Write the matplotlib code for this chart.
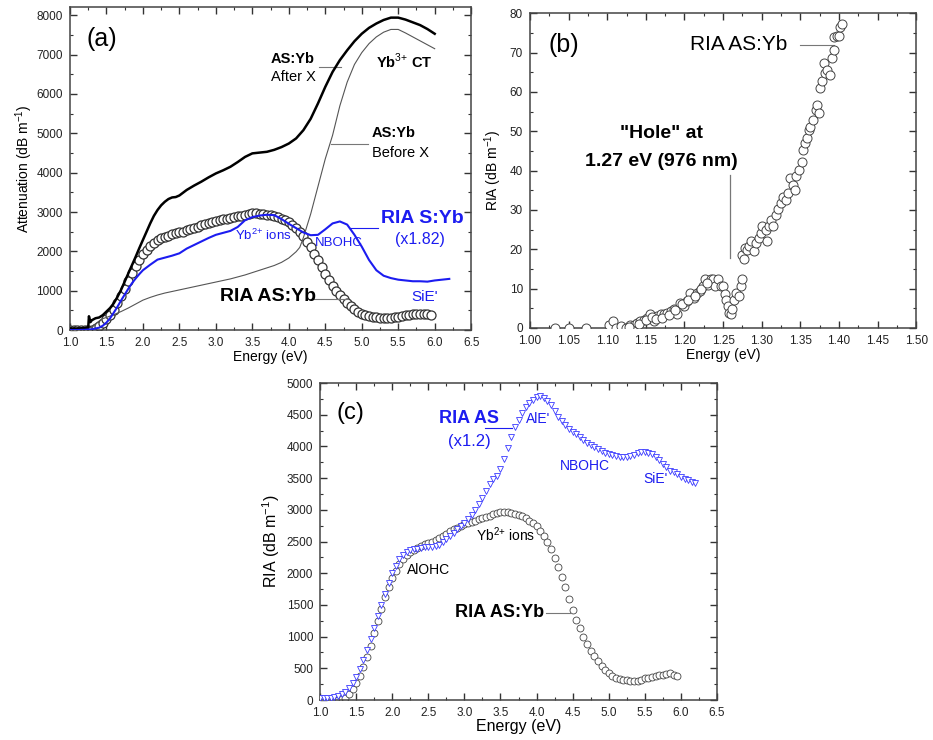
import matplotlib
matplotlib.use('Agg')
import matplotlib.pyplot as plt
import numpy as np
from matplotlib.ticker import MultipleLocator

plt.rcParams['font.family'] = ['Liberation Sans', 'DejaVu Sans']
plt.rcParams['mathtext.fontset'] = 'custom'
plt.rcParams['mathtext.rm'] = 'Liberation Sans'
plt.rcParams['mathtext.bf'] = 'Liberation Sans:bold'

# ---- panel (a) lines ----
e_after = [1.0, 1.1, 1.2, 1.25, 1.26, 1.28, 1.3, 1.35, 1.4, 1.45, 1.5, 1.55, 1.6, 1.65, 1.7, 1.75,
           1.8, 1.85, 1.9, 1.95, 2.0, 2.05, 2.1, 2.15, 2.2, 2.25, 2.3, 2.35, 2.4, 2.45, 2.5, 2.6,
           2.7, 2.8, 2.9, 3.0, 3.1, 3.2, 3.3, 3.4, 3.5, 3.6, 3.7, 3.8, 3.9, 4.0, 4.1, 4.2, 4.3,
           4.4, 4.5, 4.6, 4.7, 4.8, 4.9, 5.0, 5.1, 5.2, 5.3, 5.4, 5.5, 5.6, 5.7, 5.8, 5.9, 6.0]
att_after = [40, 40, 50, 60, 350, 200, 250, 300, 320, 380, 470, 560, 680, 840, 1020, 1230,
             1440, 1650, 1860, 2080, 2290, 2500, 2710, 2900, 3050, 3170, 3260, 3330, 3370, 3380, 3420, 3560,
             3670, 3770, 3880, 3980, 4060, 4150, 4270, 4400, 4490, 4510, 4530, 4580, 4650, 4740, 4870, 5080, 5370,
             5760, 6180, 6560, 6860, 7110, 7340, 7530, 7680, 7790, 7880, 7940, 7940, 7890, 7820, 7750, 7650, 7530]

e_before = [1.0, 1.1, 1.2, 1.3, 1.35, 1.4, 1.45, 1.5, 1.6, 1.7, 1.8, 1.9, 2.0, 2.1, 2.2, 2.3, 2.4,
            2.5, 2.6, 2.7, 2.8, 2.9, 3.0, 3.1, 3.2, 3.3, 3.4, 3.5, 3.6, 3.7, 3.8, 3.9, 4.0, 4.1,
            4.15, 4.2, 4.3, 4.4, 4.5, 4.6, 4.7, 4.8, 4.9, 5.0, 5.1, 5.2, 5.3, 5.4, 5.5, 5.6, 5.7,
            5.8, 5.9, 6.0]
att_before = [30, 30, 40, 70, 150, 230, 290, 320, 390, 470, 560, 660, 760, 830, 890, 940, 980,
              1020, 1060, 1100, 1140, 1180, 1220, 1260, 1300, 1350, 1400, 1460, 1520, 1580, 1640, 1720, 1830, 1990,
              2100, 2350, 2950, 3650, 4350, 4950, 5700, 6300, 6750, 7050, 7280, 7450, 7570, 7640, 7640, 7550, 7450,
              7350, 7250, 7150]

e_syb = [1.0, 1.1, 1.2, 1.3, 1.4, 1.45, 1.5, 1.55, 1.6, 1.65, 1.7, 1.75, 1.8, 1.85, 1.9, 1.95, 2.0,
         2.1, 2.2, 2.3, 2.4, 2.5, 2.6, 2.7, 2.8, 2.9, 3.0, 3.1, 3.2, 3.3, 3.4, 3.5, 3.6, 3.7, 3.8,
         3.9, 4.0, 4.1, 4.2, 4.3, 4.4, 4.5, 4.6, 4.7, 4.8, 4.9, 5.0, 5.1, 5.2, 5.3, 5.4, 5.5, 5.6,
         5.7, 5.8, 5.9, 6.0, 6.1, 6.2]
ria_syb = [0, 0, 5, 20, 60, 110, 190, 300, 440, 590, 750, 900, 1050, 1190, 1310, 1420, 1520,
           1660, 1790, 1840, 1890, 1950, 2070, 2160, 2250, 2340, 2420, 2470, 2520, 2620, 2790, 2870, 2910, 2930, 2920,
           2820, 2700, 2590, 2480, 2410, 2420, 2560, 2710, 2760, 2680, 2420, 2120, 1780, 1520, 1380, 1320, 1280, 1260,
           1240, 1240, 1230, 1260, 1280, 1300]

# ---- RIA AS:Yb (circles, panels a and c), 1.00 .. 5.95 step 0.05 ----
e_asyb = [1.00, 1.05, 1.10, 1.15, 1.20, 1.25, 1.30, 1.35, 1.40, 1.45, 1.50, 1.55, 1.60, 1.65, 1.70,
          1.75, 1.80, 1.85, 1.90, 1.95, 2.00, 2.05, 2.10, 2.15, 2.20, 2.25, 2.30, 2.35, 2.40, 2.45,
          2.50, 2.55, 2.60, 2.65, 2.70, 2.75, 2.80, 2.85, 2.90, 2.95, 3.00, 3.05, 3.10, 3.15, 3.20,
          3.25, 3.30, 3.35, 3.40, 3.45, 3.50, 3.55, 3.60, 3.65, 3.70, 3.75, 3.80, 3.85, 3.90, 3.95,
          4.00, 4.05, 4.10, 4.15, 4.20, 4.25, 4.30, 4.35, 4.40, 4.45, 4.50, 4.55, 4.60, 4.65, 4.70,
          4.75, 4.80, 4.85, 4.90, 4.95, 5.00, 5.05, 5.10, 5.15, 5.20, 5.25, 5.30, 5.35, 5.40, 5.45,
          5.50, 5.55, 5.60, 5.65, 5.70, 5.75, 5.80, 5.85, 5.90, 5.95]
ria_asyb = [0, 0, 0, 0, 0, 0, 10, 40, 100, 170, 270, 380, 520, 680, 860,
            1050, 1250, 1440, 1620, 1790, 1920, 2040, 2140, 2220, 2280, 2330, 2370, 2400, 2430, 2460,
            2480, 2500, 2530, 2560, 2590, 2620, 2660, 2690, 2720, 2750, 2770, 2790, 2810, 2830, 2850,
            2870, 2890, 2910, 2930, 2950, 2965, 2970, 2960, 2950, 2935, 2920, 2900, 2870, 2830, 2790,
            2740, 2670, 2590, 2490, 2380, 2240, 2100, 1940, 1780, 1600, 1420, 1270, 1130, 1000, 880,
            780, 690, 610, 540, 470, 420, 380, 350, 330, 320, 310, 300, 295, 300, 320,
            340, 350, 370, 385, 395, 400, 415, 420, 400, 380]

# ---- RIA AS (x1.2) triangles, panel c, 1.00 .. 6.20 step 0.05 ----
e_as = [1.00, 1.05, 1.10, 1.15, 1.20, 1.25, 1.30, 1.35, 1.40, 1.45, 1.50, 1.55, 1.60, 1.65, 1.70,
        1.75, 1.80, 1.85, 1.90, 1.95, 2.00, 2.05, 2.10, 2.15, 2.20, 2.25, 2.30, 2.35, 2.40, 2.45,
        2.50, 2.55, 2.60, 2.65, 2.70, 2.75, 2.80, 2.85, 2.90, 2.95, 3.00, 3.05, 3.10, 3.15, 3.20,
        3.25, 3.30, 3.35, 3.40, 3.45, 3.50, 3.55, 3.60, 3.65, 3.70, 3.75, 3.80, 3.85, 3.90, 3.95,
        4.00, 4.05, 4.10, 4.15, 4.20, 4.25, 4.30, 4.35, 4.40, 4.45, 4.50, 4.55, 4.60, 4.65, 4.70,
        4.75, 4.80, 4.85, 4.90, 4.95, 5.00, 5.05, 5.10, 5.15, 5.20, 5.25, 5.30, 5.35, 5.40, 5.45,
        5.50, 5.55, 5.60, 5.65, 5.70, 5.75, 5.80, 5.85, 5.90, 5.95, 6.00, 6.05, 6.10, 6.15, 6.20]
ria_as = [30, 30, 35, 40, 50, 65, 90, 130, 190, 270, 370, 490, 630, 790, 960,
          1140, 1320, 1500, 1680, 1850, 2000, 2120, 2220, 2290, 2330, 2360, 2380, 2390, 2400, 2410,
          2420, 2420, 2430, 2450, 2490, 2540, 2590, 2640, 2690, 2740, 2790, 2850, 2920, 3000, 3090,
          3190, 3300, 3400, 3480, 3540, 3640, 3800, 3980, 4150, 4300, 4420, 4530, 4620, 4690, 4740,
          4780, 4790, 4770, 4720, 4650, 4560, 4470, 4400, 4340, 4280, 4230, 4190, 4150, 4100, 4060,
          4020, 3990, 3960, 3930, 3900, 3880, 3860, 3845, 3835, 3830, 3835, 3850, 3870, 3890, 3905,
          3910, 3900, 3880, 3840, 3790, 3730, 3670, 3620, 3590, 3560, 3520, 3490, 3470, 3445, 3420]

# ---- panel (b) scatter ----
e_b = [1.033, 1.051, 1.073, 1.102, 1.108, 1.111, 1.118, 1.124, 1.130, 1.135, 1.139, 1.143, 1.147,
       1.152, 1.156, 1.160, 1.165, 1.169, 1.173, 1.177, 1.182, 1.186, 1.190, 1.194, 1.199, 1.203,
       1.207, 1.212, 1.216, 1.220, 1.224, 1.227, 1.231, 1.234, 1.237, 1.240, 1.244, 1.247, 1.250,
       1.252, 1.254, 1.256, 1.258, 1.260, 1.262, 1.264, 1.267, 1.270, 1.273, 1.274, 1.274, 1.277,
       1.278, 1.281, 1.284, 1.286, 1.290, 1.293, 1.296, 1.299, 1.301, 1.305, 1.307, 1.309, 1.312,
       1.315, 1.318, 1.321, 1.325, 1.328, 1.331, 1.334, 1.337, 1.340, 1.343, 1.345, 1.348, 1.352,
       1.353, 1.356, 1.359, 1.361, 1.363, 1.367, 1.370, 1.372, 1.374, 1.376, 1.378, 1.380, 1.382,
       1.385, 1.389, 1.391, 1.393, 1.394, 1.397, 1.400, 1.401, 1.404,
       1.128, 1.141, 1.150, 1.158, 1.163, 1.171, 1.180, 1.188, 1.197, 1.205, 1.214, 1.222, 1.229]
ria_b = [0.0, 0.0, 0.0, 0.8, 1.7, 0.0, 0.4, 0.0, 0.6, 0.8, 1.3, 1.7, 2.1,
         2.5, 3.4, 1.7, 3.0, 3.4, 3.4, 3.8, 4.2, 4.7, 3.4, 6.4, 5.5, 6.8,
         8.9, 7.6, 8.9, 9.3, 10.6, 12.3, 11.0, 12.3, 12.3, 10.6, 12.3, 10.6, 10.6,
         8.5, 7.2, 5.5, 3.8, 3.4, 4.7, 7.2, 8.9, 8.0, 10.6, 12.3, 18.6, 17.4,
         20.3, 19.9, 20.7, 22.0, 19.5, 21.6, 22.9, 24.1, 25.8, 25.0, 22.0, 25.8, 27.5,
         25.8, 28.8, 30.1, 31.8, 33.4, 32.6, 34.3, 38.1, 36.4, 35.1, 38.5, 40.2, 42.3,
         45.3, 47.0, 48.3, 50.4, 51.2, 52.9, 55.5, 56.7, 54.6, 61.0, 62.7, 67.3, 64.8,
         65.6, 64.4, 68.6, 70.7, 74.1, 74.3, 74.3, 76.6, 77.3,
         0.3, 0.9, 1.9, 2.8, 2.2, 2.6, 3.3, 4.5, 6.0, 7.2, 8.2, 10.0, 11.5]

BLUE = '#1c1cf0'
LEAD = '#777777'


def style_axes(ax, xmaj, xmin, ymaj, ymin, size=8.5):
    ax.xaxis.set_major_locator(MultipleLocator(xmaj))
    ax.xaxis.set_minor_locator(MultipleLocator(xmin))
    ax.yaxis.set_major_locator(MultipleLocator(ymaj))
    ax.yaxis.set_minor_locator(MultipleLocator(ymin))
    ax.tick_params(which='both', direction='in', top=True, right=True, labelsize=size,
                   color='#333333', labelcolor='#222222')
    ax.tick_params(which='major', length=5, width=1)
    ax.tick_params(which='minor', length=2.5, width=0.8)
    ax.tick_params(axis='x', pad=5)
    ax.tick_params(axis='y', pad=5)
    for s in ax.spines.values():
        s.set_color('#444444')
        s.set_linewidth(1.1)


fig = plt.figure(figsize=(9.33, 7.4), dpi=100)

# ---------------- (a) ----------------
ax = fig.add_axes([0.075, 0.554, 0.430, 0.436])
ax.plot(e_asyb, ria_asyb, 'o', ms=6.5, mfc='white', mec='#333333', mew=0.9, zorder=2)
ax.plot(e_before, att_before, color='#555555', lw=0.8, zorder=3)
ax.plot(e_after, att_after, color='black', lw=1.8, zorder=3)
ax.plot(e_syb, ria_syb, color=BLUE, lw=1.5, zorder=4)
ax.set_xlim(1.0, 6.5)
ax.set_ylim(0, 8200)
ax.set_xlabel('Energy (eV)', fontsize=10, labelpad=1)
ax.set_ylabel('Attenuation (dB m$^{-1}$)', fontsize=10, labelpad=1)
style_axes(ax, 0.5, 0.25, 1000, 500)
ax.xaxis.set_major_formatter(matplotlib.ticker.FormatStrFormatter('%.1f'))

ax.text(1.22, 7400, '(a)', fontsize=18, va='center')
ax.text(3.75, 6900, 'AS:Yb', fontsize=10.5, fontweight='bold', va='center')
ax.text(3.75, 6430, 'After X', fontsize=10.5, va='center')
ax.plot([4.42, 4.72], [6690, 6690], color=LEAD, lw=0.8)
ax.text(5.19, 6820, 'Yb$^{3{+}}$ CT', fontsize=10.5, fontweight='bold', va='center')
ax.text(5.14, 5000, 'AS:Yb', fontsize=10.5, fontweight='bold', va='center')
ax.text(5.14, 4510, 'Before X', fontsize=10.5, va='center')
ax.plot([4.58, 5.09], [4740, 4740], color=LEAD, lw=0.8)
ax.text(5.26, 2840, 'RIA S:Yb', fontsize=14, fontweight='bold', color=BLUE, va='center')
ax.text(5.80, 2290, '(x1.82)', fontsize=11.5, color=BLUE, va='center', ha='center')
ax.plot([4.84, 5.22], [2600, 2600], color=BLUE, lw=0.8)
ax.text(3.26, 2410, 'Yb$^{2{+}}$ ions', fontsize=9.5, color=BLUE, va='center')
ax.text(4.36, 2220, 'NBOHC', fontsize=9.5, color=BLUE, va='center')
ax.text(5.68, 850, "SiE'", fontsize=11, color=BLUE, va='center')
ax.text(3.05, 850, 'RIA AS:Yb', fontsize=14, fontweight='bold', va='center')
ax.plot([4.31, 4.81], [800, 800], color=LEAD, lw=0.8)

# ---------------- (b) ----------------
bx = fig.add_axes([0.568, 0.557, 0.414, 0.425])
bx.plot(e_b, ria_b, 'o', ms=6.5, mfc='white', mec='#444444', mew=0.7, zorder=3)
bx.set_xlim(1.0, 1.5)
bx.set_ylim(0, 80)
bx.set_xlabel('Energy (eV)', fontsize=10, labelpad=1)
bx.set_ylabel('RIA (dB m$^{-1}$)', fontsize=10, labelpad=4)
style_axes(bx, 0.05, 0.025, 10, 5)
bx.xaxis.set_major_formatter(matplotlib.ticker.FormatStrFormatter('%.2f'))
bx.text(1.024, 72, '(b)', fontsize=18, va='center')
bx.text(1.207, 72, 'RIA AS:Yb', fontsize=15, va='center')
bx.plot([1.350, 1.393], [72, 72], color=LEAD, lw=0.8)
bx.text(1.170, 49.5, '"Hole" at', fontsize=14, fontweight='bold', ha='center', va='center')
bx.text(1.170, 42.3, '1.27 eV (976 nm)', fontsize=14, fontweight='bold', ha='center', va='center')
bx.plot([1.2585, 1.2585], [17.8, 39], color=LEAD, lw=0.9)

# ---------------- (c) ----------------
cx = fig.add_axes([0.343, 0.054, 0.4255, 0.4284])
cx.plot(e_asyb, ria_asyb, 'o', ms=5, mfc='white', mec='#444444', mew=0.6, zorder=2)
cx.plot(e_as, ria_as, 'v', ms=5, mfc='white', mec='#3a3aff', mew=0.6, zorder=3)
cx.set_xlim(1.0, 6.5)
cx.set_ylim(0, 5000)
cx.set_xlabel('Energy (eV)', fontsize=11.5, labelpad=0)
cx.set_ylabel('RIA (dB m$^{-1}$)', fontsize=11.5, labelpad=3)
style_axes(cx, 0.5, 0.25, 500, 250)
cx.xaxis.set_major_formatter(matplotlib.ticker.FormatStrFormatter('%.1f'))
cx.text(1.23, 4526, '(c)', fontsize=17, va='center')
cx.text(3.07, 4447, 'RIA AS', fontsize=13, fontweight='bold', color=BLUE, ha='center', va='center')
cx.text(3.07, 4080, '(x1.2)', fontsize=12, color=BLUE, ha='center', va='center')
cx.plot([3.29, 3.66], [4290, 4290], color=BLUE, lw=0.8)
cx.text(3.86, 4430, "AlE'", fontsize=10, color=BLUE, va='center')
cx.text(4.32, 3684, 'NBOHC', fontsize=10, color=BLUE, va='center')
cx.text(5.48, 3490, "SiE'", fontsize=10, color=BLUE, va='center')
cx.text(3.16, 2615, 'Yb$^{2{+}}$ ions', fontsize=10, va='center')
cx.text(2.20, 2050, 'AlOHC', fontsize=10, va='center')
cx.text(2.87, 1384, 'RIA AS:Yb', fontsize=13, fontweight='bold', va='center')
cx.plot([4.13, 4.48], [1368, 1368], color=LEAD, lw=0.8)

fig.savefig('out.png', dpi=100)
